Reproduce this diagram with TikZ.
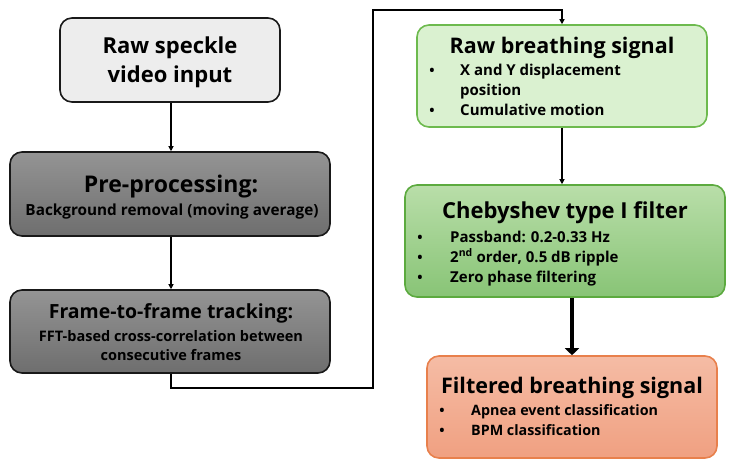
\documentclass[tikz,border=0pt]{standalone}
\usepackage{fontspec}
\setmainfont{Open Sans}
\usetikzlibrary{arrows.meta}
\definecolor{grayA}{HTML}{EDEDED}
\definecolor{grayTop}{HTML}{949494}
\definecolor{grayBot}{HTML}{6E6E6E}
\definecolor{lgFill}{HTML}{DAF1D0}
\definecolor{lgLine}{HTML}{6DBA4E}
\definecolor{mgTop}{HTML}{B9DEA9}
\definecolor{mgBot}{HTML}{88C476}
\definecolor{mgLine}{HTML}{5CAA3F}
\definecolor{orTop}{HTML}{F5BCA5}
\definecolor{orBot}{HTML}{F0A081}
\definecolor{orLine}{HTML}{E8804C}
\tikzset{
  boxbase/.style={rounded corners=12pt, inner sep=0pt, line width=1.6pt},
  graybox/.style={boxbase, draw=black!90, top color=grayTop, bottom color=grayBot},
  lightbox/.style={boxbase, draw=black!90, fill=grayA},
  greenbox/.style={boxbase, draw=lgLine, fill=lgFill},
  midgreenbox/.style={boxbase, draw=mgLine, top color=mgTop, bottom color=mgBot},
  orangebox/.style={boxbase, draw=orLine, top color=orTop, bottom color=orBot},
  ttl/.style={font=\fontsize{21.5}{24}\selectfont\bfseries, inner sep=0pt, anchor=base},
  sub/.style={font=\fontsize{14.5}{16}\selectfont\bfseries, inner sep=0pt, anchor=base},
  itm/.style={font=\fontsize{15}{16}\selectfont\bfseries, inner sep=0pt, anchor=base west},
  dot/.style={font=\fontsize{14}{16}\selectfont\bfseries, inner sep=0pt, anchor=base},
  arr/.style={line width=1.1pt, -{Triangle[length=5pt,width=5pt]}},
  bigarr/.style={line width=4.5pt, -{Triangle[length=7pt,width=14pt]}}
}
\begin{document}
\begin{tikzpicture}[x=1pt,y=-1pt]
\useasboundingbox (0,0) rectangle (736,467);
% boxes
\node[lightbox, minimum width=220pt, minimum height=84pt] (b1) at (170,60) {};
\node[graybox, minimum width=320pt, minimum height=84pt] (b2) at (170,194) {};
\node[graybox, minimum width=320pt, minimum height=83pt] (b3) at (170,331.5) {};
\node[greenbox, minimum width=290pt, minimum height=102pt] (b4) at (562,76) {};
\node[midgreenbox, minimum width=320pt, minimum height=112pt] (b5) at (565,241) {};
\node[orangebox, minimum width=290pt, minimum height=102pt] (b6) at (572,407) {};
% box 1 text
\node[ttl, font=\fontsize{22}{24}\selectfont\bfseries] (t1a) at (170,53) {Raw speckle};
\node[ttl, font=\fontsize{22}{24}\selectfont\bfseries] (t1b) at (170,82) {video input};
% box 2 text
\node[ttl, font=\fontsize{23}{24}\selectfont\bfseries] (t2) at (171,192) {Pre-processing:};
\node[sub, font=\fontsize{15.3}{16}\selectfont\bfseries] (s2) at (172,215) {Background removal (moving average)};
% box 3 text
\node[ttl, font=\fontsize{19.5}{24}\selectfont\bfseries] (t3) at (171,318) {Frame-to-frame tracking:};
\node[sub] (s3a) at (171,341) {FFT-based cross-correlation between};
\node[sub] (s3b) at (171,360) {consecutive frames};
% box 4 text
\node[ttl] (t4) at (562,53) {Raw breathing signal};
\node[dot] (d4a) at (432,75) {•};
\node[itm] (i4a) at (460,75) {X and Y displacement};
\node[itm] (i4b) at (460,95) {position};
\node[dot] (d4c) at (432,115) {•};
\node[itm] (i4c) at (460,115) {Cumulative motion};
% box 5 text
\node[ttl, font=\fontsize{22}{24}\selectfont\bfseries] (t5) at (565,218) {Chebyshev type I filter};
\node[dot] (d5a) at (420,242) {•};
\node[itm] (i5a) at (450,242) {Passband: 0.2-0.33 Hz};
\node[dot] (d5b) at (420,262) {•};
\node[itm] (i5b) at (450,262) {2\textsuperscript{nd} order, 0.5 dB ripple};
\node[dot] (d5c) at (420,282) {•};
\node[itm] (i5c) at (450,282) {Zero phase filtering};
% box 6 text
\node[ttl] (t6) at (572,393) {Filtered breathing signal};
\node[dot] (d6a) at (442,415) {•};
\node[itm, font=\fontsize{14.3}{16}\selectfont\bfseries] (i6a) at (471,415) {Apnea event classification};
\node[dot] (d6b) at (442,435) {•};
\node[itm, font=\fontsize{14.3}{16}\selectfont\bfseries] (i6b) at (471,435) {BPM classification};
% connectors
\coordinate (c1) at (171,388);
\coordinate (c2) at (373,388);
\coordinate (c3) at (373,10);
\coordinate (c4) at (562,10);
\draw[arr] (b1.south -| 171,0) -- (b2.north -| 171,0);
\draw[arr] (b2.south -| 171,0) -- (b3.north -| 171,0);
\draw[line width=1.6pt, -{Triangle[length=5pt,width=5pt]}] (b3.south -| c1) -- (c1) -- (c2) -- (c3) -- (c4) -- (b4.north);
\draw[arr] (b4.south) -- (b5.north -| b4.south);
\draw[bigarr] (b5.south -| 572,0) -- (b6.north);
\end{tikzpicture}
\end{document}
